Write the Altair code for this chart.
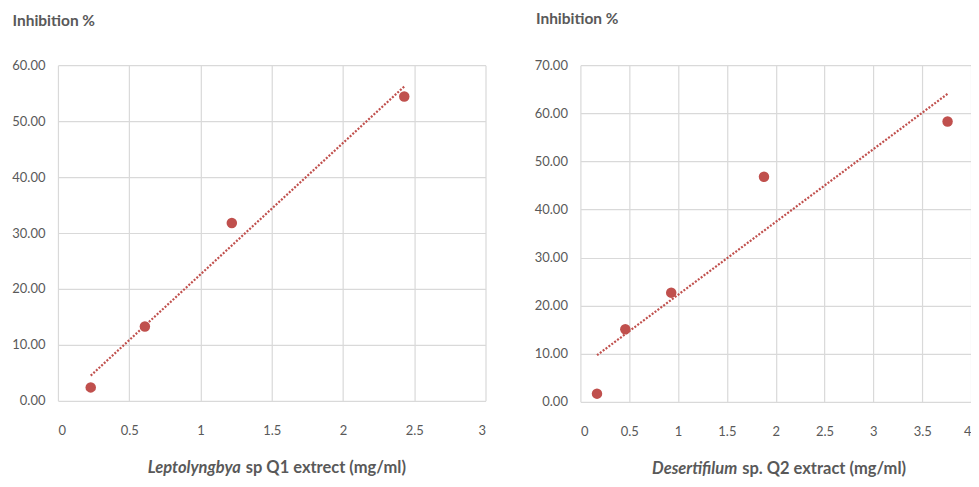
import altair as alt
import pandas as pd

# ---- data ----
left_x = [0.23, 0.61, 1.22, 2.43]
left_y = [2.4, 13.3, 31.8, 54.4]
left_xticks = [0, 0.5, 1, 1.5, 2, 2.5, 3]
left_yticks = [0, 10, 20, 30, 40, 50, 60]

right_x = [0.17, 0.46, 0.93, 1.88, 3.76]
right_y = [1.7, 15.1, 22.7, 46.8, 58.3]
right_xticks = [0, 0.5, 1, 1.5, 2, 2.5, 3, 3.5, 4]
right_yticks = [0, 10, 20, 30, 40, 50, 60, 70]

left_title = ["Leptolyngbya", "sp Q1 extrect (mg/ml)"]
right_title = ["Desertifilum", "sp. Q2 extract (mg/ml)"]
y_title = "Inhibition %"

FONT = "Lato"
GRAY = "#595959"
RED = "#C0504D"


def panel(xs, ys, xticks, yticks, w, h, title_parts, split_x, title_x, title_y):
    df = pd.DataFrame({"x": xs, "y": ys})
    base = alt.Chart(df)
    xenc = alt.X(
        "x:Q",
        scale=alt.Scale(domain=[xticks[0], xticks[-1]], nice=False),
        axis=alt.Axis(values=xticks, format="~g", title=None, labelPadding=24),
    )
    yenc = alt.Y(
        "y:Q",
        scale=alt.Scale(domain=[yticks[0], yticks[-1]], nice=False),
        axis=alt.Axis(
            values=yticks,
            format=".2f",
            title=y_title,
            titleAngle=0,
            titleAlign="left",
            titleBaseline="middle",
            titleX=title_x,
            titleY=title_y,
            labelPadding=13,
        ),
    )
    pts = base.mark_circle(size=110, color=RED, opacity=1).encode(x=xenc, y=yenc)
    line = (
        base.transform_regression("x", "y")
        .mark_line(color=RED, strokeDash=[2, 1.6], strokeWidth=2.2)
        .encode(x="x:Q", y="y:Q")
    )
    tdf = pd.DataFrame({"a": [title_parts[0]], "b": [title_parts[1]]})
    t1 = (
        alt.Chart(tdf)
        .mark_text(font=FONT, fontSize=16.5, fontWeight="bold", fontStyle="italic",
                   color=GRAY, align="right", baseline="middle")
        .encode(text="a:N", x=alt.value(split_x), y=alt.value(h + 67))
    )
    t2 = (
        alt.Chart(tdf)
        .mark_text(font=FONT, fontSize=16.5, fontWeight="bold",
                   color=GRAY, align="left", baseline="middle")
        .encode(text="b:N", x=alt.value(split_x + 5), y=alt.value(h + 67))
    )
    return alt.layer(line, pts, t1, t2).properties(width=w, height=h)


left = panel(left_x, left_y, left_xticks, left_yticks, 428, 336, left_title, 183, -46, -45)
right = panel(right_x, right_y, right_xticks, right_yticks, 391, 337, right_title, 157, -45, -47)

chart = (
    alt.hconcat(left, right, spacing=48)
    .properties(padding={"left": 3, "top": 3, "right": 0, "bottom": 0})
    .configure_view(stroke=None)
    .configure_axis(
        domain=False,
        ticks=False,
        gridColor="#D9D9D9",
        gridWidth=1.2,
        labelColor=GRAY,
        labelFont=FONT,
        labelFontSize=13,
        titleColor=GRAY,
        titleFont=FONT,
        titleFontSize=15.5,
        titleFontWeight="bold",
    )
)

chart.save("out.html", embed_options={"renderer": "svg", "actions": False})
